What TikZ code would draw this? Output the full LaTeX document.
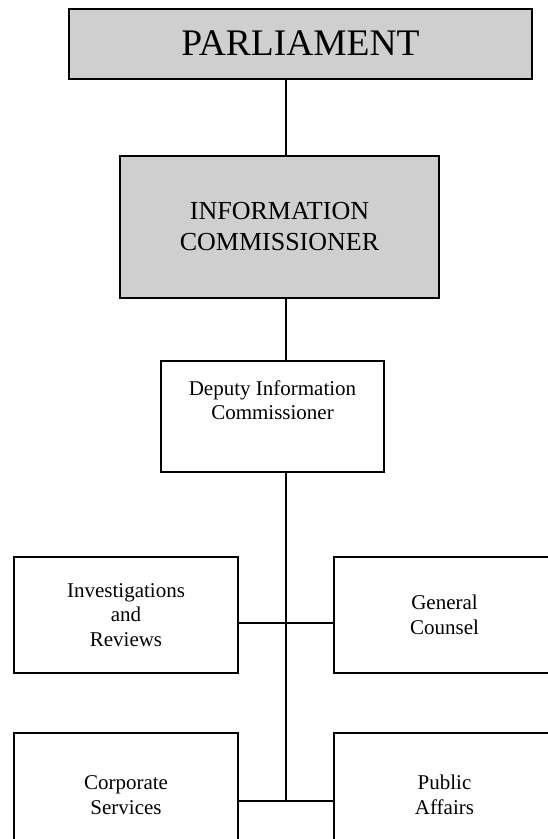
\documentclass[tikz,border=0pt]{standalone}
\usepackage{fontspec}
\setmainfont{Liberation Serif}
\usetikzlibrary{positioning}
\definecolor{boxgrey}{RGB}{207,207,207}

\tikzset{
  orgbox/.style={draw, line width=2pt, inner sep=0pt, align=center,
    font=\fontsize{21}{24.5}\selectfont},
  greybox/.style={orgbox, fill=boxgrey},
  orgline/.style={line width=2pt},
}

\begin{document}
\begin{tikzpicture}[x=1pt,y=-1pt]
  \useasboundingbox (0,0) rectangle (548,839);

  % Top level
  \node[greybox, minimum width=463, minimum height=70,
    font=\fontsize{37.5}{42}\selectfont] (parl) at (300.5,43.5) {PARLIAMENT};
  \node[greybox, minimum width=319, minimum height=142,
    font=\fontsize{26}{31}\selectfont] (ic) at (279.5,227) {INFORMATION\\COMMISSIONER};

  % Deputy (text sits at the top of the box)
  \node[orgbox, minimum width=223, minimum height=111,
    label={[name=deptext, anchor=north, yshift=-17, align=center,
      font=\fontsize{21}{24.5}\selectfont]north:Deputy Information\\Commissioner}]
    (dep) at (272.5,416.5) {};

  % Branches
  \node[orgbox, minimum width=224, minimum height=116] (inv) at (126,615) {Investigations\\and\\Reviews};
  \node[orgbox, minimum width=221, minimum height=116] (gc) at (444.5,615) {General\\Counsel};
  \node[orgbox, minimum width=224, minimum height=124] (corp) at (126,795) {Corporate\\Services};
  \node[orgbox, minimum width=221, minimum height=124] (pub) at (444.5,795) {Public\\Affairs};

  % Spine and joins
  \coordinate (spine) at (286,0);
  \coordinate (midjoin) at (286,623);
  \coordinate (lowjoin) at (286,801);

  \draw[orgline] (parl.south -| spine) -- (ic.north -| spine);
  \draw[orgline] (ic.south -| spine) -- (dep.north -| spine);
  \draw[orgline] (dep.south -| spine) -- (lowjoin);
  \draw[orgline] (inv.east |- midjoin) -- (gc.west |- midjoin);
  \draw[orgline] (corp.east |- lowjoin) -- (pub.west |- lowjoin);
\end{tikzpicture}
\end{document}
